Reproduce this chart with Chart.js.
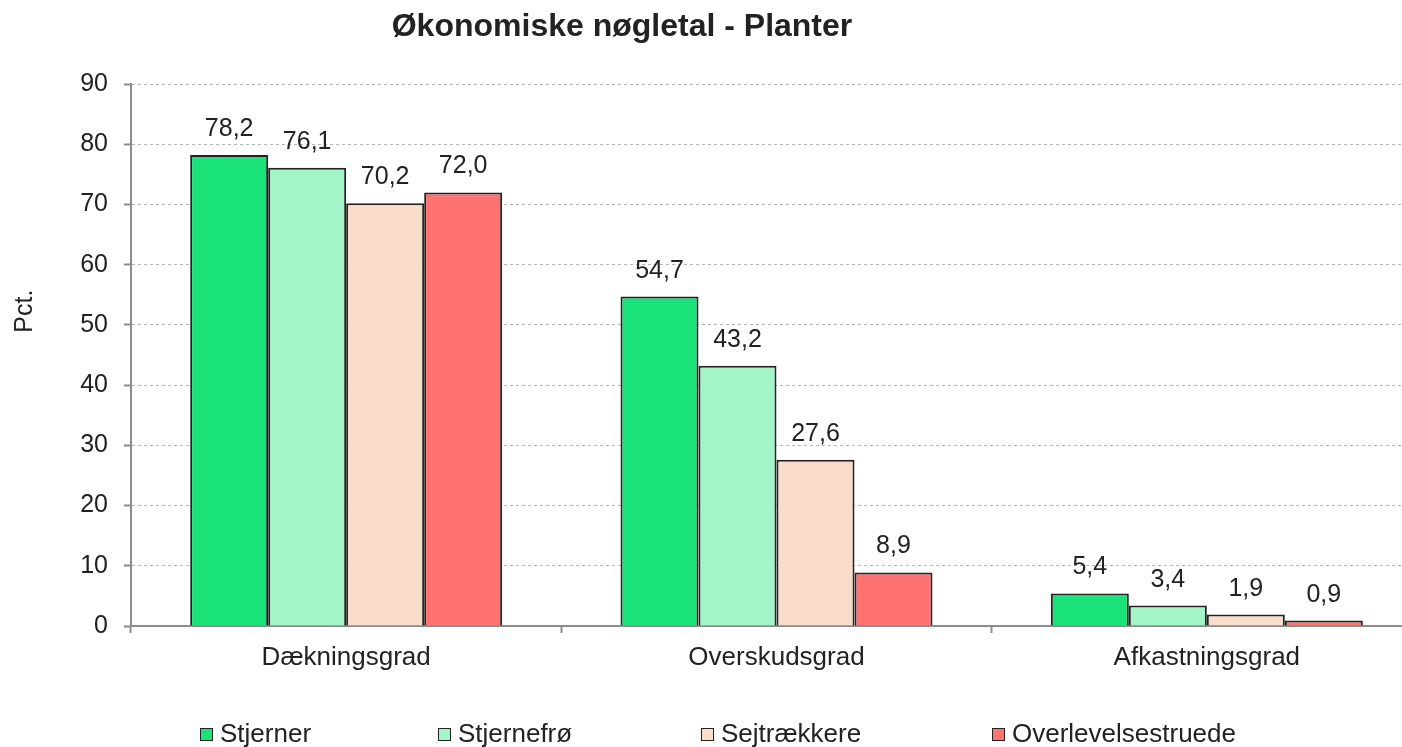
<!DOCTYPE html>
<html>
<head>
<meta charset="utf-8">
<script src="https://cdn.jsdelivr.net/npm/chart.js@4/dist/chart.umd.min.js"></script>
<style>
  html, body { margin:0; padding:0; background:#fff; overflow:hidden; width:1402px; height:747px; }
  #wrap { position:absolute; left:0; top:0; width:1424px; height:747px; }
  #title { position:absolute; left:0; top:7px; width:1244px; text-align:center; line-height:37px;
           font: bold 32px "Liberation Sans", Arial, sans-serif; color:#222; }
  #legend { position:absolute; top:718px; left:0; width:1402px; height:30px;
            font: 26px "Liberation Sans", Arial, sans-serif; color:#222; }
  .li { position:absolute; top:0; white-space:nowrap; line-height:30px; padding-left:20px; }
  .li i { position:absolute; left:0; top:10px; width:11px; height:11px; border:1.5px solid #222; }
</style>
</head>
<body>
<div id="wrap"><canvas id="c" width="1424" height="747"></canvas></div>
<div id="title">Økonomiske nøgletal - Planter</div>
<div id="legend"></div>
<script>
const categories = ["Dækningsgrad", "Overskudsgrad", "Afkastningsgrad"];
const seriesNames = ["Stjerner", "Stjernefrø", "Sejtrækkere", "Overlevelsestruede"];
const stjerner = [78.2, 54.7, 5.4];
const stjernefro = [76.1, 43.2, 3.4];
const sejtraekkere = [70.2, 27.6, 1.9];
const overlevelsestruede = [72.0, 8.9, 0.9];
const yTicks = [0, 10, 20, 30, 40, 50, 60, 70, 80, 90];
const yAxisTitle = "Pct.";

const colors = ["#19e278", "#a3f5c8", "#fadccb", "#ff7272"];
const seriesData = [stjerner, stjernefro, sejtraekkere, overlevelsestruede];
const FONT = '"Liberation Sans", Arial, sans-serif';

const datasets = seriesNames.map((n, i) => ({
  label: n,
  data: seriesData[i],
  backgroundColor: colors[i],
  borderColor: "#222",
  borderWidth: 2,
  categoryPercentage: 0.725,
  barPercentage: 1.0
}));

const valueLabels = {
  id: "valueLabels",
  afterDatasetsDraw(chart) {
    const ctx = chart.ctx;
    ctx.save();
    ctx.font = "25px " + FONT;
    ctx.fillStyle = "#222";
    ctx.textAlign = "center";
    ctx.textBaseline = "alphabetic";
    chart.data.datasets.forEach((ds, di) => {
      chart.getDatasetMeta(di).data.forEach((bar, i) => {
        const v = ds.data[i].toFixed(1).replace(".", ",");
        ctx.fillText(v, bar.x, bar.y - 19);
      });
    });
    ctx.restore();
  }
};

const yTitle = {
  id: "yTitle",
  afterDraw(chart) {
    const ctx = chart.ctx;
    const a = chart.chartArea;
    ctx.save();
    ctx.translate(25, a.top + (a.bottom - a.top) * 0.419);
    ctx.rotate(-Math.PI / 2);
    ctx.font = "25px " + FONT;
    ctx.fillStyle = "#222";
    ctx.textAlign = "center";
    ctx.textBaseline = "middle";
    ctx.fillText(yAxisTitle, 0, 0);
    ctx.restore();
  }
};

new Chart(document.getElementById("c"), {
  type: "bar",
  data: { labels: categories, datasets },
  options: {
    responsive: false,
    animation: false,
    layout: { padding: { top: 84, right: 2, bottom: 0, left: 0 } },
    plugins: {
      legend: { display: false },
      title: { display: false },
      tooltip: { enabled: false }
    },
    scales: {
      x: {
        grid: { display: true, drawOnChartArea: false, offset: true, tickLength: 7, tickColor: "#8c8c8c", tickWidth: 2 },
        border: { display: true, color: "#8c8c8c", width: 2 },
        ticks: { font: { size: 26, family: FONT }, color: "#222", padding: 9, maxRotation: 0 },
        afterFit(s) { s.height = 121; }
      },
      y: {
        min: 0, max: 90,
        afterBuildTicks(s) { s.ticks = yTicks.map(v => ({ value: v })); },
        grid: { color: "#b4b4b4", lineWidth: 1, tickLength: 7, tickColor: "#8c8c8c", tickWidth: 2, tickBorderDash: [] },
        border: { display: true, color: "#8c8c8c", width: 2, dash: [3, 3] },
        ticks: { font: { size: 25, family: FONT }, color: "#222", padding: 16 },
        afterFit(s) { s.width = 131; }
      }
    }
  },
  plugins: [valueLabels, yTitle]
});

const legendLefts = [200, 438, 701, 992];
const leg = document.getElementById("legend");
seriesNames.forEach((n, i) => {
  const d = document.createElement("div");
  d.className = "li";
  d.style.left = legendLefts[i] + "px";
  const b = document.createElement("i");
  b.style.background = colors[i];
  d.appendChild(b);
  d.appendChild(document.createTextNode(n));
  leg.appendChild(d);
});
</script>
</body>
</html>
